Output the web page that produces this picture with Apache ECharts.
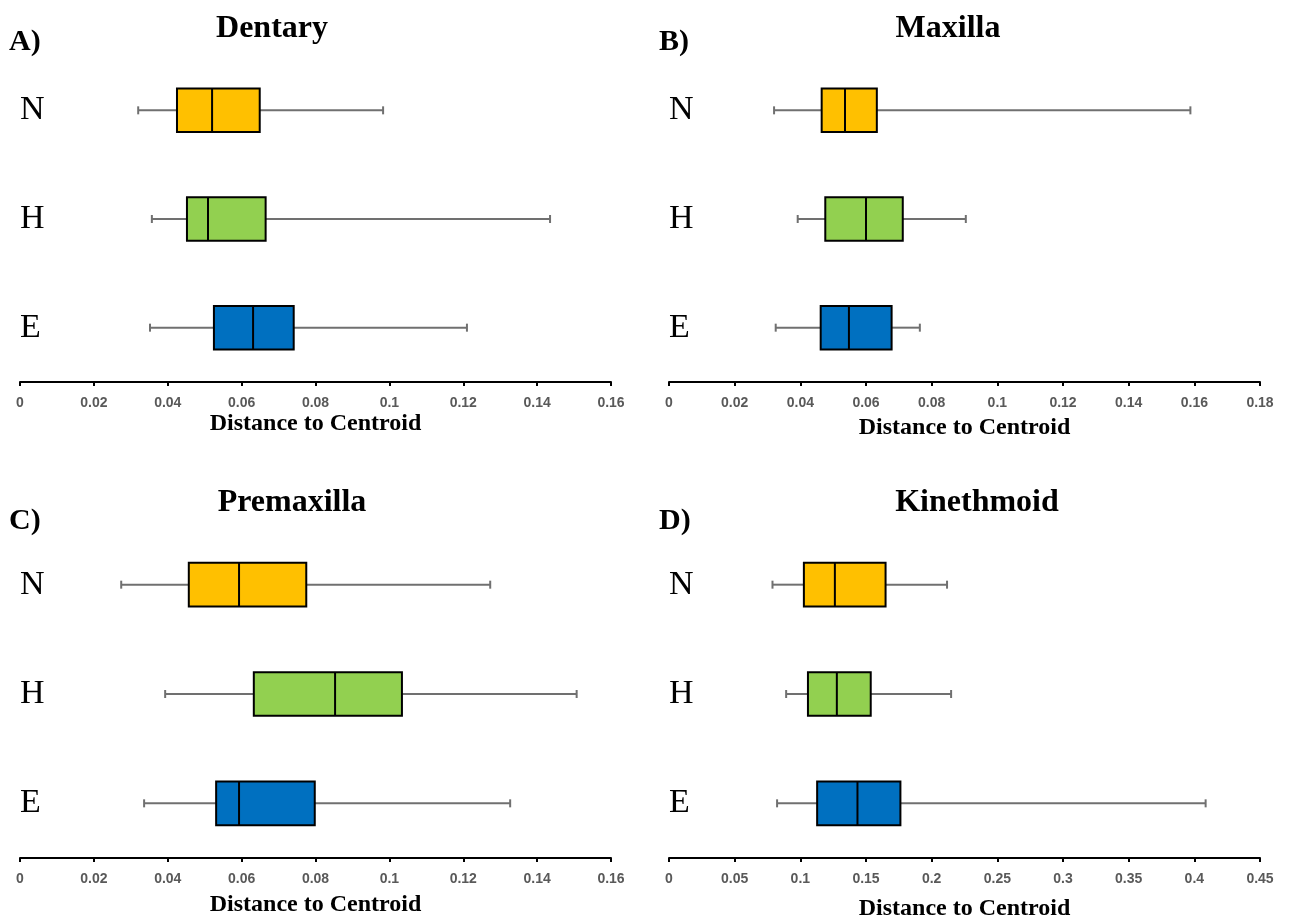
<!DOCTYPE html>
<html>
<head>
<meta charset="utf-8">
<script src="https://cdn.jsdelivr.net/npm/echarts@6/dist/echarts.min.js"></script>
<style>
  html, body { margin: 0; padding: 0; background: #fff; }
  #chart { width: 1291px; height: 918px; }
</style>
</head>
<body>
<div id="chart"></div>
<script>
// Groups shown on every panel, top to bottom
const groups = ['N', 'H', 'E'];
const groupColors = ['#FFC000', '#92D050', '#0070C0'];

// Five-number summaries per group: [min, Q1, median, Q3, max]
const dentary = [
  [0.0320, 0.0425, 0.0520, 0.0649, 0.0983],
  [0.0357, 0.0452, 0.0509, 0.0665, 0.1435],
  [0.0352, 0.0525, 0.0631, 0.0741, 0.1210]
];
const maxilla = [
  [0.0320, 0.0465, 0.0536, 0.0633, 0.1588],
  [0.0392, 0.0476, 0.0600, 0.0712, 0.0904],
  [0.0325, 0.0462, 0.0548, 0.0678, 0.0764]
];
const premaxilla = [
  [0.0274, 0.0457, 0.0593, 0.0775, 0.1273],
  [0.0393, 0.0633, 0.0853, 0.1034, 0.1507],
  [0.0336, 0.0531, 0.0593, 0.0798, 0.1327]
];
const kinethmoid = [
  [0.0788, 0.1027, 0.1263, 0.1649, 0.2117],
  [0.0892, 0.1058, 0.1278, 0.1536, 0.2148],
  [0.0823, 0.1128, 0.1435, 0.1762, 0.4086]
];

// Panel headings and axis ranges
const panelTitles = ['Dentary', 'Maxilla', 'Premaxilla', 'Kinethmoid'];
const panelLetters = ['A)', 'B)', 'C)', 'D)'];
const axisMax = [0.16, 0.18, 0.16, 0.45];
const axisStep = [0.02, 0.02, 0.02, 0.05];
const axisTitle = 'Distance to Centroid';

const panelData = [dentary, maxilla, premaxilla, kinethmoid];

// Layout of the four panels
const grids = [
  { left: 20,  top: 56,  width: 591, height: 326, outerBoundsMode: 'none', containLabel: false },
  { left: 669, top: 56,  width: 591, height: 326, outerBoundsMode: 'none', containLabel: false },
  { left: 20,  top: 530, width: 591, height: 328, outerBoundsMode: 'none', containLabel: false },
  { left: 669, top: 530, width: 591, height: 328, outerBoundsMode: 'none', containLabel: false }
];
const nameGaps = [30, 34, 35, 39];
const headingPos = [
  { tx: 272, ty: 29,  lx: 9,   ly: 42 },
  { tx: 948, ty: 29,  lx: 659, ly: 42 },
  { tx: 292, ty: 503, lx: 9,   ly: 521 },
  { tx: 977, ty: 503, lx: 659, ly: 521 }
];

const serif = '"Liberation Serif", "Times New Roman", serif';

function renderBox(params, api) {
  const idx = api.value(0);
  const vMin = api.value(1), q1 = api.value(2), med = api.value(3),
        q3 = api.value(4), vMax = api.value(5);
  const pMin = api.coord([vMin, idx]);
  const pQ1 = api.coord([q1, idx]);
  const pMed = api.coord([med, idx]);
  const pQ3 = api.coord([q3, idx]);
  const pMax = api.coord([vMax, idx]);
  const band = api.size([0, 1])[1];
  const h = band * 0.40;
  const y = pMed[1];
  const capH = 8;
  const whisker = { stroke: '#707070', lineWidth: 2 };
  return {
    type: 'group',
    children: [
      { type: 'line', shape: { x1: pMin[0], y1: y, x2: pQ1[0], y2: y }, style: whisker },
      { type: 'line', shape: { x1: pQ3[0], y1: y, x2: pMax[0], y2: y }, style: whisker },
      { type: 'line', shape: { x1: pMin[0], y1: y - capH / 2, x2: pMin[0], y2: y + capH / 2 }, style: whisker },
      { type: 'line', shape: { x1: pMax[0], y1: y - capH / 2, x2: pMax[0], y2: y + capH / 2 }, style: whisker },
      { type: 'rect', shape: { x: pQ1[0], y: y - h / 2, width: pQ3[0] - pQ1[0], height: h },
        style: { fill: groupColors[idx], stroke: '#000', lineWidth: 2 } },
      { type: 'line', shape: { x1: pMed[0], y1: y - h / 2, x2: pMed[0], y2: y + h / 2 },
        style: { stroke: '#000', lineWidth: 2 } }
    ]
  };
}

const xAxes = [], yAxes = [], series = [], graphics = [];
panelData.forEach((stats, p) => {
  xAxes.push({
    type: 'value', gridIndex: p, min: 0, max: axisMax[p], interval: axisStep[p],
    splitLine: { show: false },
    axisLine: { show: true, lineStyle: { color: '#000', width: 2 } },
    axisTick: { show: true, length: 4, lineStyle: { color: '#000', width: 2 } },
    axisLabel: { fontSize: 14, fontWeight: 'bold', color: '#595959', margin: 14,
                 fontFamily: '"Liberation Sans", Arial, sans-serif' },
    name: axisTitle, nameLocation: 'middle', nameGap: nameGaps[p],
    nameTextStyle: { fontFamily: serif, fontWeight: 'bold', fontSize: 24, color: '#000' }
  });
  yAxes.push({
    type: 'category', gridIndex: p, data: groups, inverse: true,
    axisLine: { show: false }, axisTick: { show: false }, splitLine: { show: false },
    axisLabel: { inside: true, margin: 0, fontSize: 34, fontFamily: serif, color: '#000' }
  });
  series.push({
    type: 'custom', xAxisIndex: p, yAxisIndex: p,
    renderItem: renderBox,
    encode: { x: [1, 2, 3, 4, 5], y: 0 },
    data: stats.map((s, i) => [i].concat(s)),
    silent: true
  });
  const hp = headingPos[p];
  graphics.push({
    type: 'text', x: hp.tx, y: hp.ty,
    style: { text: panelTitles[p], fontFamily: serif, fontWeight: 'bold', fontSize: 32,
             fill: '#000', align: 'center', verticalAlign: 'middle' }
  });
  graphics.push({
    type: 'text', x: hp.lx, y: hp.ly,
    style: { text: panelLetters[p], fontFamily: serif, fontWeight: 'bold', fontSize: 30,
             fill: '#000', align: 'left', verticalAlign: 'middle' }
  });
});

const chart = echarts.init(document.getElementById('chart'), null, { renderer: 'canvas' });
chart.setOption({
  animation: false,
  backgroundColor: '#fff',
  grid: grids,
  xAxis: xAxes,
  yAxis: yAxes,
  series: series,
  graphic: graphics
});
</script>
</body>
</html>
